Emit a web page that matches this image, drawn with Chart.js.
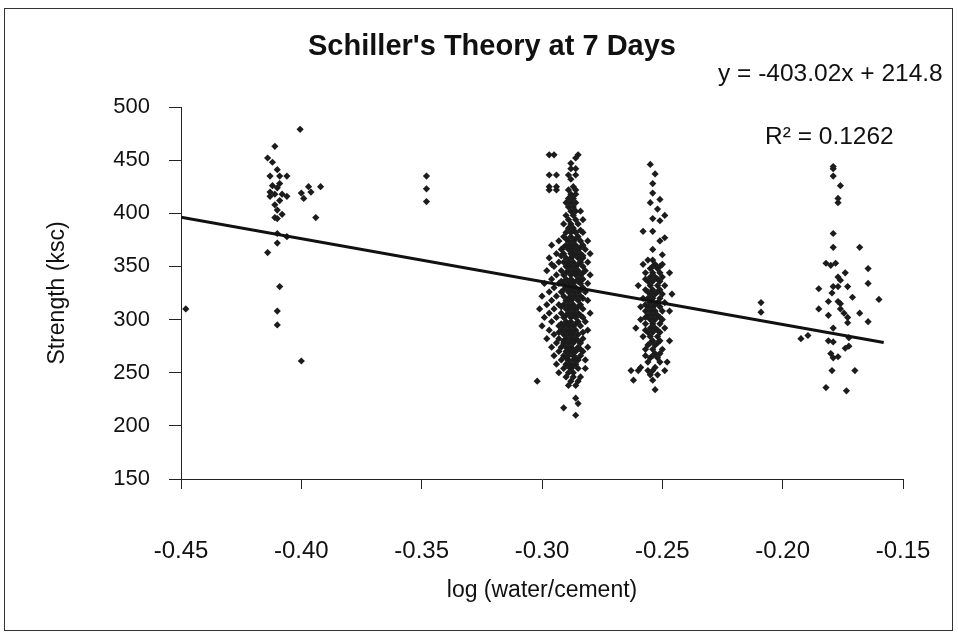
<!DOCTYPE html>
<html>
<head>
<meta charset="utf-8">
<script src="https://cdn.jsdelivr.net/npm/chart.js@4/dist/chart.umd.min.js"></script>
<style>
  body { margin: 0; background: #fff; }
  #wrap { position: absolute; left: 0; top: 0; width: 958px; height: 635px; }
  #frame { position: absolute; left: 4px; top: 8px; width: 949px; height: 623px; border: 1px solid #333; box-sizing: border-box; pointer-events: none; }
</style>
</head>
<body>
<div id="wrap"><canvas id="myChart" width="958" height="635"></canvas></div>
<div id="frame"></div>
<script>
// axis ticks
var xTickValues = [-0.45, -0.40, -0.35, -0.30, -0.25, -0.20, -0.15];
var yTickValues = [150, 200, 250, 300, 350, 400, 450, 500];

// trend line  y = -403.02x + 214.8
var trendX = [-0.45, -0.158];
var trendY = [396.2, 278.5];

// points near -0.41 (plus the lone point at -0.45)
var groupLeft = [
  [-0.4005,479],[-0.411,463],[-0.414,452],[-0.412,448],[-0.410,441],[-0.413,435],[-0.409,435],
  [-0.406,435],[-0.409,428],[-0.412,426],[-0.410,424],[-0.413,420],[-0.411,418],[-0.413,416],
  [-0.408,418],[-0.406,416],[-0.409,412],[-0.411,408],[-0.410,403],[-0.408,399],[-0.411,396],
  [-0.410,395],[-0.400,419],[-0.399,414],[-0.397,425],[-0.396,420],[-0.392,425],[-0.394,396],
  [-0.410,381],[-0.406,378],[-0.410,372],[-0.414,363],[-0.409,331],[-0.410,308],[-0.410,295],
  [-0.400,261],[-0.448,310]
];

// three points near -0.35
var groupMid = [[-0.348,435],[-0.348,423],[-0.348,411]];

// big cluster near -0.29, rows: [y, x values...]
var groupMainRows = [
  [455,-0.297,-0.295,-0.285],[452,-0.286],[447,-0.288],[442,-0.288,-0.286],
  [436,-0.297,-0.294,-0.289,-0.286],[432,-0.288],[425,-0.297,-0.294,-0.287],
  [422,-0.297,-0.294,-0.289,-0.286],[418,-0.288,-0.286],[414,-0.289,-0.287],
  [410,-0.290,-0.288,-0.286],[406,-0.289,-0.287],[402,-0.288,-0.286,-0.284],
  [398,-0.290,-0.287],[394,-0.289,-0.286,-0.283],[390,-0.291,-0.288,-0.285],
  [386,-0.289,-0.287],[382,-0.290,-0.288,-0.286,-0.283],[378,-0.291,-0.288,-0.285],
  [374,-0.293,-0.289,-0.287,-0.284,-0.281],[370,-0.296,-0.290,-0.288,-0.286,-0.283],
  [366,-0.292,-0.289,-0.287,-0.285,-0.282],[362,-0.294,-0.291,-0.288,-0.286,-0.284,-0.280],
  [358,-0.297,-0.290,-0.288,-0.285,-0.283],[354,-0.293,-0.291,-0.289,-0.287,-0.284,-0.281],
  [350,-0.295,-0.290,-0.288,-0.286,-0.283],[346,-0.298,-0.292,-0.289,-0.287,-0.285,-0.282],
  [342,-0.294,-0.291,-0.288,-0.286,-0.284,-0.280],[338,-0.296,-0.290,-0.288,-0.285,-0.283],
  [334,-0.299,-0.293,-0.291,-0.289,-0.287,-0.284,-0.281],[330,-0.295,-0.290,-0.288,-0.286,-0.283],
  [326,-0.297,-0.292,-0.289,-0.287,-0.285,-0.282],[322,-0.300,-0.294,-0.291,-0.288,-0.286,-0.284],
  [318,-0.296,-0.290,-0.288,-0.285,-0.281],[314,-0.298,-0.293,-0.291,-0.289,-0.287,-0.284],
  [310,-0.301,-0.295,-0.290,-0.288,-0.286,-0.283],[306,-0.297,-0.292,-0.289,-0.287,-0.285,-0.280],
  [302,-0.299,-0.294,-0.291,-0.288,-0.286,-0.283],[298,-0.296,-0.290,-0.288,-0.285,-0.282],
  [294,-0.300,-0.293,-0.291,-0.289,-0.287,-0.284],[290,-0.297,-0.292,-0.290,-0.288,-0.286,-0.281],
  [286,-0.295,-0.291,-0.289,-0.287,-0.285],[282,-0.298,-0.293,-0.290,-0.288,-0.286,-0.283],
  [278,-0.294,-0.291,-0.289,-0.287,-0.284],[274,-0.296,-0.292,-0.290,-0.288,-0.285,-0.281],
  [270,-0.293,-0.290,-0.288,-0.286,-0.283],[266,-0.295,-0.291,-0.289,-0.287,-0.284],
  [262,-0.292,-0.289,-0.287,-0.285,-0.282],[258,-0.294,-0.290,-0.288,-0.286],
  [254,-0.291,-0.288,-0.285,-0.282],[250,-0.293,-0.289,-0.287],[246,-0.290,-0.287,-0.284],
  [242,-0.302,-0.288,-0.285],[238,-0.289,-0.286],[226,-0.286],[221,-0.285],[217,-0.291],[210,-0.286],
  // filling of the dark core
  [384,-0.287,-0.284],[376,-0.290,-0.286],[368,-0.291,-0.288,-0.284],[360,-0.292,-0.287,-0.283],
  [352,-0.296,-0.289,-0.285],[344,-0.290,-0.286,-0.283],[336,-0.292,-0.287,-0.285],
  [328,-0.291,-0.288,-0.284],[320,-0.289,-0.287,-0.283],[312,-0.292,-0.288,-0.285],
  [304,-0.290,-0.287,-0.284],[296,-0.292,-0.289,-0.286],[288,-0.293,-0.288,-0.283],
  [280,-0.291,-0.287,-0.285],[272,-0.289,-0.287,-0.284],[264,-0.290,-0.286],[256,-0.289,-0.287]
];

// cluster near -0.25, rows: [y, x values...]
var groupSecondRows = [
  [446,-0.255],[437,-0.253],[428,-0.254],[419,-0.254],[413,-0.251],[410,-0.255],[404,-0.252],
  [398,-0.249],[395,-0.254],[393,-0.251],[383,-0.258,-0.254],[377,-0.249],[374,-0.251],
  [366,-0.254],[361,-0.250],[356,-0.256,-0.254],[352,-0.258,-0.253,-0.250],[348,-0.255,-0.252],
  [344,-0.257,-0.254,-0.251,-0.247],[340,-0.255,-0.253,-0.250],[336,-0.256,-0.254,-0.251],
  [332,-0.260,-0.255,-0.252,-0.249],[328,-0.257,-0.254,-0.251],[324,-0.255,-0.253,-0.250,-0.246],
  [320,-0.258,-0.256,-0.254,-0.251],[316,-0.255,-0.252,-0.249],[312,-0.259,-0.256,-0.254,-0.251],
  [308,-0.257,-0.255,-0.253,-0.250,-0.247],[304,-0.256,-0.254,-0.252],[300,-0.259,-0.255,-0.253,-0.250],
  [296,-0.257,-0.254,-0.251],[292,-0.261,-0.255,-0.253,-0.249],[288,-0.256,-0.254,-0.251],
  [284,-0.258,-0.255,-0.252],[280,-0.254,-0.251,-0.247],[276,-0.256,-0.253],[272,-0.257,-0.254,-0.250],
  [268,-0.253,-0.251],[264,-0.255,-0.252],[260,-0.256,-0.251,-0.248],[255,-0.259,-0.253],
  [252,-0.263,-0.260,-0.256,-0.254,-0.249],[248,-0.255,-0.252],[243,-0.262,-0.254],[234,-0.253],
  // filling of the dark core
  [350,-0.254,-0.251],[338,-0.257,-0.252],[326,-0.256,-0.252],[314,-0.257,-0.253],
  [302,-0.257,-0.251],[290,-0.257,-0.252],[278,-0.255,-0.252],[266,-0.257,-0.254]
];

// points from -0.21 to -0.16
var groupRight = [
  [-0.209,316],[-0.209,307],[-0.1924,282],[-0.1895,285],
  [-0.179,444],[-0.179,442],[-0.179,435],[-0.176,426],[-0.177,414],[-0.177,410],[-0.179,381],
  [-0.179,368],[-0.168,368],[-0.182,353],[-0.180,351],[-0.178,353],[-0.1645,348],[-0.174,344],
  [-0.177,340],[-0.176,337],[-0.1645,334],[-0.185,329],[-0.179,331],[-0.177,331],[-0.173,331],
  [-0.1795,325],[-0.171,321],[-0.160,319],[-0.181,317],[-0.177,317],[-0.176,315],[-0.185,310],
  [-0.176,310],[-0.1745,306],[-0.173,302],[-0.173,297],[-0.181,304],[-0.168,306],[-0.1645,298],
  [-0.179,292],[-0.1725,283],[-0.181,280],[-0.179,279],[-0.1725,275],[-0.174,273],[-0.180,268],
  [-0.179,264],[-0.177,265],[-0.1795,252],[-0.170,252],[-0.182,236],[-0.1735,233]
];

var font = '"Liberation Sans", Arial, sans-serif';

var points = [];
function addPairs(list) {
  list.forEach(function (p) { points.push({x: p[0], y: p[1]}); });
}
function addRows(rows) {
  rows.forEach(function (r) {
    for (var i = 1; i < r.length; i++) points.push({x: r[i], y: r[0]});
  });
}
addPairs(groupLeft);
addPairs(groupMid);
addRows(groupMainRows);
addRows(groupSecondRows);
addPairs(groupRight);

var trend = trendX.map(function (x, i) { return {x: x, y: trendY[i]}; });

// title and equation texts
var notes = {
  id: 'notes',
  afterDraw: function (chart) {
    var ctx = chart.ctx;
    ctx.save();
    ctx.fillStyle = '#111';
    ctx.textBaseline = 'middle';
    ctx.textAlign = 'center';
    ctx.font = 'bold 29px ' + font;
    ctx.fillText("Schiller's Theory at 7 Days", 492, 47);
    ctx.textAlign = 'left';
    ctx.font = '24.5px ' + font;
    ctx.fillText('y = -403.02x + 214.8', 718, 74);
    ctx.fillText('R² = 0.1262', 765, 137);
    ctx.restore();
  }
};

var ctx = document.getElementById('myChart').getContext('2d');
var myChart = new Chart(ctx, {
  type: 'scatter',
  data: {
    datasets: [{
      type: 'line',
      label: 'trend',
      data: trend,
      borderColor: '#111',
      borderWidth: 3,
      pointRadius: 0,
      fill: false
    }, {
      label: 'Strength',
      data: points,
      pointStyle: 'rectRot',
      pointRadius: 3.6,
      pointBorderWidth: 0,
      backgroundColor: '#1c1c1c',
      borderColor: '#1c1c1c'
    }]
  },
  options: {
    responsive: false,
    animation: false,
    layout: { padding: { top: 107, left: 20, right: 55, bottom: 20 } },
    plugins: {
      legend: { display: false },
      tooltip: { enabled: false },
      title: { display: false }
    },
    scales: {
      x: {
        type: 'linear',
        min: -0.45,
        max: -0.15,
        afterBuildTicks: function (s) { s.ticks = xTickValues.map(function (v) { return {value: v}; }); },
        afterFit: function (s) { s.height = 136; s.paddingLeft = 0; s.paddingRight = 0; },
        grid: { display: true, drawOnChartArea: false, drawTicks: true, tickLength: 10, color: '#222' },
        border: { display: true, color: '#222', width: 1 },
        ticks: {
          autoSkip: false, maxRotation: 0, padding: 48, color: '#111',
          font: { family: font, size: 24 },
          callback: function (v) { return v.toFixed(2); }
        },
        title: { display: true, text: 'log (water/cement)', color: '#111', font: { family: font, size: 23 }, padding: { top: 0, bottom: 11 } }
      },
      y: {
        min: 150,
        max: 500,
        afterBuildTicks: function (s) { s.ticks = yTickValues.map(function (v) { return {value: v}; }); },
        afterFit: function (s) { s.width = 161; s.paddingTop = 0; s.paddingBottom = 0; },
        grid: { display: true, drawOnChartArea: false, drawTicks: true, tickLength: 12, color: '#222' },
        border: { display: true, color: '#222', width: 1 },
        ticks: { padding: 19, color: '#111', font: { family: font, size: 22 } },
        title: { display: true, text: 'Strength (ksc)', color: '#111', font: { family: font, size: 23 }, padding: { top: 24, bottom: 0 } }
      }
    }
  },
  plugins: [notes]
});
</script>
</body>
</html>
